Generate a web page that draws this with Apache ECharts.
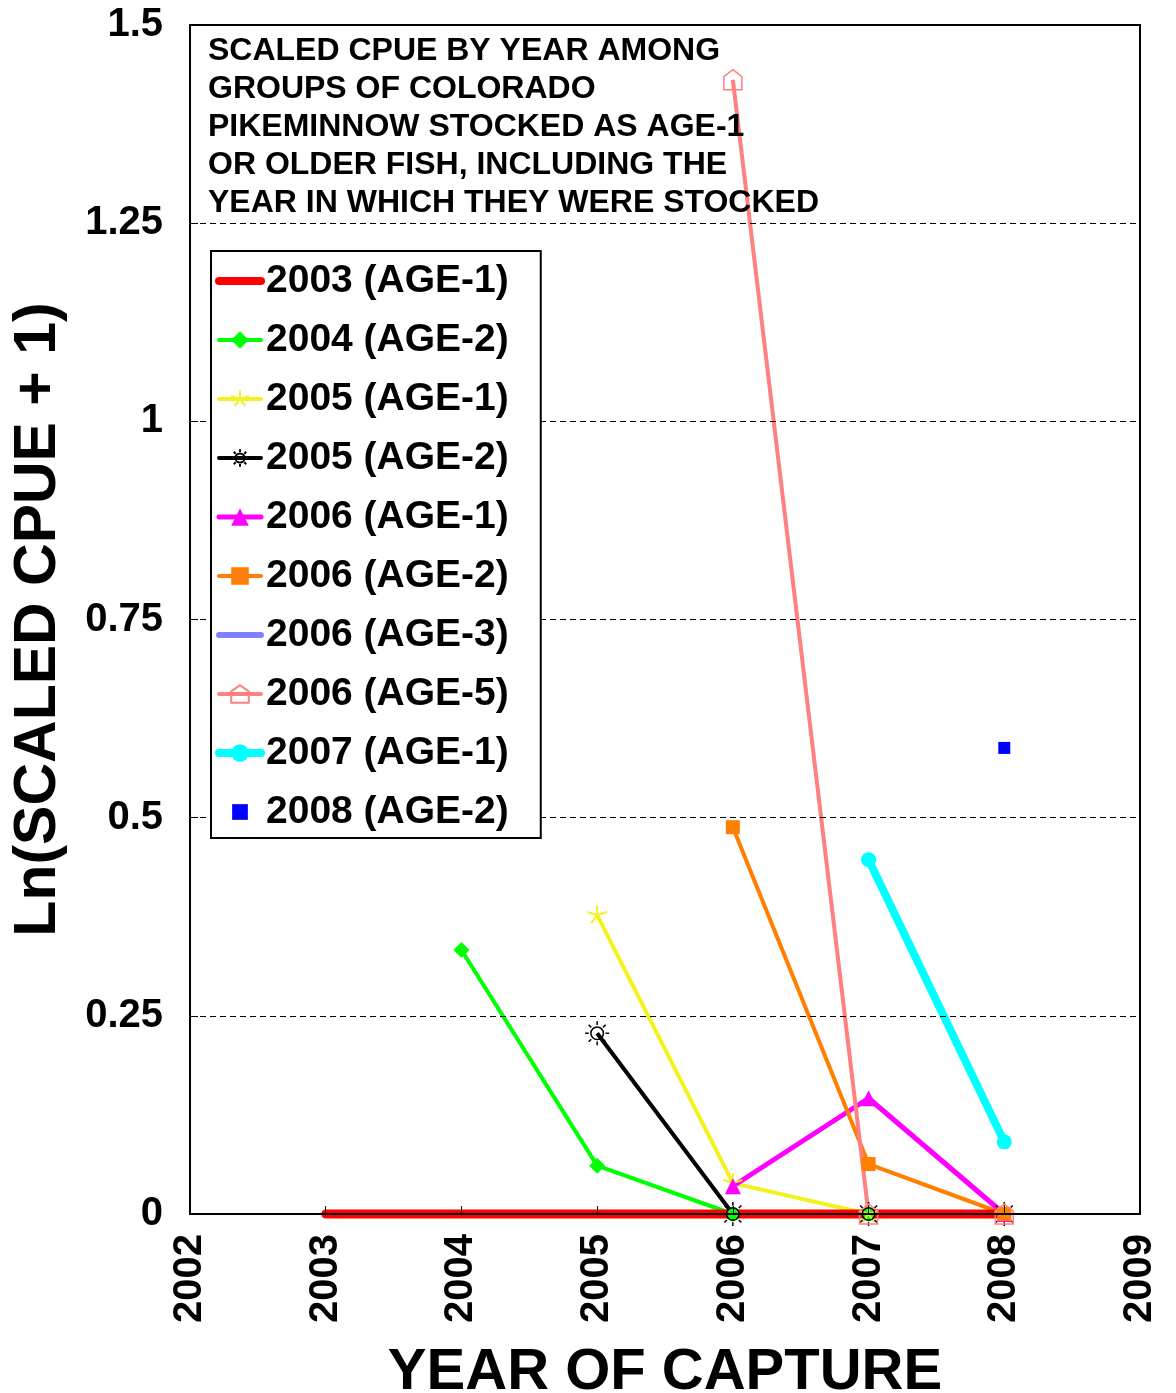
<!DOCTYPE html>
<html>
<head>
<meta charset="utf-8">
<script src="https://cdn.jsdelivr.net/npm/echarts@6/dist/echarts.min.js"></script>
<style>
  html, body { margin: 0; padding: 0; background: #fff; }
  #chart { width: 1176px; height: 1393px; }
</style>
</head>
<body>
<div id="chart"></div>
<script>
// Years of capture (x positions of the points)
const years = [2003, 2004, 2005, 2006, 2007, 2008];

// Ln(scaled CPUE + 1) per stocking group, aligned with `years` (null = not yet stocked)
const g2003age1 = [0, 0, 0, 0, 0, 0];
const g2004age2 = [null, 0.333, 0.061, 0, 0, 0];
const g2005age1 = [null, null, 0.377, 0.039, 0, 0];
const g2005age2 = [null, null, 0.228, 0, 0, 0];
const g2006age1 = [null, null, null, 0.035, 0.146, 0];
const g2006age2 = [null, null, null, 0.488, 0.063, 0];
const g2006age3 = [null, null, null, 0, 0, 0];
const g2006age5 = [null, null, null, 1.431, 0, 0];
const g2007age1 = [null, null, null, null, 0.447, 0.091];
const g2008age2 = [null, null, null, null, null, 0.588];

const seriesNames = [
  '2003 (AGE-1)', '2004 (AGE-2)', '2005 (AGE-1)', '2005 (AGE-2)', '2006 (AGE-1)',
  '2006 (AGE-2)', '2006 (AGE-3)', '2006 (AGE-5)', '2007 (AGE-1)', '2008 (AGE-2)'
];

const yTicks = { min: 0, max: 1.5, interval: 0.25 };
const xTicks = { min: 2002, max: 2009, interval: 1 };

const titleLines = [
  'SCALED CPUE BY YEAR AMONG',
  'GROUPS OF COLORADO',
  'PIKEMINNOW STOCKED AS AGE-1',
  'OR OLDER FISH, INCLUDING THE',
  'YEAR IN WHICH THEY WERE STOCKED'
];

function pairs(values) {
  return years.map((y, i) => [y, values[i]]).filter(p => p[1] !== null);
}

// Outline marker shapes
const asteriskPath = 'path://M0 0L0 -10M0 0L9.51 -3.09M0 0L5.88 8.09M0 0L-5.88 8.09M0 0L-9.51 -3.09M0 10';
const sunPath = (function () {
  let d = 'M6 0A6 6 0 1 1 -6 0A6 6 0 1 1 6 0';
  for (let k = 0; k < 8; k++) {
    const a = k * Math.PI / 4;
    const c = Math.cos(a), s = Math.sin(a);
    d += 'M' + (8 * c).toFixed(2) + ' ' + (8 * s).toFixed(2) +
         'L' + (11.5 * c).toFixed(2) + ' ' + (11.5 * s).toFixed(2);
  }
  return 'path://' + d;
})();
const housePath = 'path://M0 -10L9 -3L9 10L-9 10L-9 -3Z';
const squareIcon = 'path://M0 0M2 2H12V12H2ZM14 14';

const FONT = '"Liberation Sans", Arial, sans-serif';

function lineSeries(name, values, color, width, symbol, size, extra) {
  return Object.assign({
    name: name,
    type: 'line',
    data: pairs(values),
    symbol: symbol,
    symbolSize: size,
    symbolKeepAspect: true,
    showAllSymbol: true,
    clip: false,
    lineStyle: { color: color, width: width },
    itemStyle: { color: color },
    emphasis: { disabled: true },
    animation: false
  }, extra || {});
}

const series = [
  lineSeries(seriesNames[6], g2006age3, '#8080FF', 6, 'none', 0),
  lineSeries(seriesNames[1], g2004age2, '#00FF00', 4, 'diamond', 16),
  lineSeries(seriesNames[2], g2005age1, '#F2F21E', 4, asteriskPath, 20,
    { itemStyle: { color: 'rgba(0,0,0,0)', borderColor: '#F2F21E', borderWidth: 2 } }),
  lineSeries(seriesNames[3], g2005age2, '#000000', 4, sunPath, 24,
    { itemStyle: { color: 'rgba(0,0,0,0)', borderColor: '#000000', borderWidth: 1.5 } }),
  lineSeries(seriesNames[4], g2006age1, '#FF00FF', 5, 'triangle', 16),
  lineSeries(seriesNames[5], g2006age2, '#FF8000', 4, 'rect', 14),
  lineSeries(seriesNames[7], g2006age5, '#FF8080', 4, housePath, 20,
    { itemStyle: { color: 'rgba(0,0,0,0)', borderColor: '#FF8080', borderWidth: 1.5 } }),
  lineSeries(seriesNames[8], g2007age1, '#00FFFF', 8, 'circle', 15),
  lineSeries(seriesNames[0], g2003age1, '#FF0000', 9, 'none', 0,
    { z: 3, lineStyle: { color: '#FF0000', width: 9, cap: 'round' } }),
  {
    name: seriesNames[9],
    type: 'scatter',
    data: pairs(g2008age2),
    symbol: 'rect',
    symbolSize: 12,
    clip: false,
    itemStyle: { color: '#0000FF', opacity: 1 },
    emphasis: { disabled: true },
    animation: false
  }
];

// Legend entries with the line weight of each group
const legendLineWidths = [8, 4, 4, 4, 5, 4, 6, 4, 8, 0];
const legendData = seriesNames.map((n, i) => {
  const item = { name: n, lineStyle: { width: legendLineWidths[i], cap: 'round' } };
  if (n === '2003 (AGE-1)' || n === '2006 (AGE-3)') {
    item.itemStyle = { opacity: 0 };
  }
  if (n === '2008 (AGE-2)') {
    item.icon = squareIcon;
  }
  return item;
});

const chart = echarts.init(document.getElementById('chart'), null, { renderer: 'canvas' });

chart.setOption({
  backgroundColor: '#ffffff',
  animation: false,
  title: {
    text: titleLines.join('\n'),
    left: 208,
    top: 32,
    padding: 0,
    textStyle: {
      fontFamily: FONT,
      fontSize: 32,
      fontWeight: 'bold',
      color: '#000',
      lineHeight: 38
    }
  },
  grid: {
    left: 190,
    top: 25,
    width: 950,
    height: 1189,
    outerBoundsMode: 'none',
    containLabel: false,
    show: true,
    borderColor: '#000',
    borderWidth: 2,
    backgroundColor: 'transparent'
  },
  legend: {
    orient: 'vertical',
    left: 211,
    top: 251,
    z: 20,
    data: legendData,
    itemWidth: 42,
    itemHeight: 22,
    itemGap: 19,
    symbolKeepAspect: true,
    padding: [10, 32, 6, 4],
    backgroundColor: '#fff',
    borderColor: '#000',
    borderWidth: 2,
    borderRadius: 0,
    selectedMode: false,
    textStyle: {
      fontFamily: FONT,
      fontSize: 39,
      fontWeight: 'bold',
      color: '#000',
      lineHeight: 40
    }
  },
  xAxis: {
    type: 'value',
    min: xTicks.min,
    max: xTicks.max,
    interval: xTicks.interval,
    z: 10,
    name: 'YEAR OF CAPTURE',
    nameLocation: 'middle',
    nameGap: 130,
    nameTextStyle: {
      fontFamily: FONT,
      fontSize: 58,
      fontWeight: 'bold',
      color: '#000'
    },
    axisLine: { show: true, onZero: false, lineStyle: { color: '#000', width: 2 } },
    axisTick: { show: true, inside: true, length: 8, lineStyle: { color: '#000', width: 1 } },
    splitLine: { show: false },
    axisLabel: {
      rotate: 90,
      margin: 20,
      fontFamily: FONT,
      fontSize: 40,
      fontWeight: 'bold',
      color: '#000',
      formatter: v => String(v)
    }
  },
  yAxis: {
    type: 'value',
    min: yTicks.min,
    max: yTicks.max,
    interval: yTicks.interval,
    z: 10,
    name: 'Ln(SCALED CPUE + 1)',
    nameLocation: 'middle',
    nameRotate: 90,
    nameGap: 122,
    nameTextStyle: {
      fontFamily: FONT,
      fontSize: 59,
      fontWeight: 'bold',
      color: '#000'
    },
    axisLine: { show: true, lineStyle: { color: '#000', width: 2 } },
    axisTick: { show: true, inside: true, length: 8, lineStyle: { color: '#000', width: 1 } },
    splitLine: { show: true, lineStyle: { color: '#000', width: 1, type: [6, 4] } },
    axisLabel: {
      margin: 27,
      fontFamily: FONT,
      fontSize: 40,
      fontWeight: 'bold',
      color: '#000'
    }
  },
  series: series
});
</script>
</body>
</html>
